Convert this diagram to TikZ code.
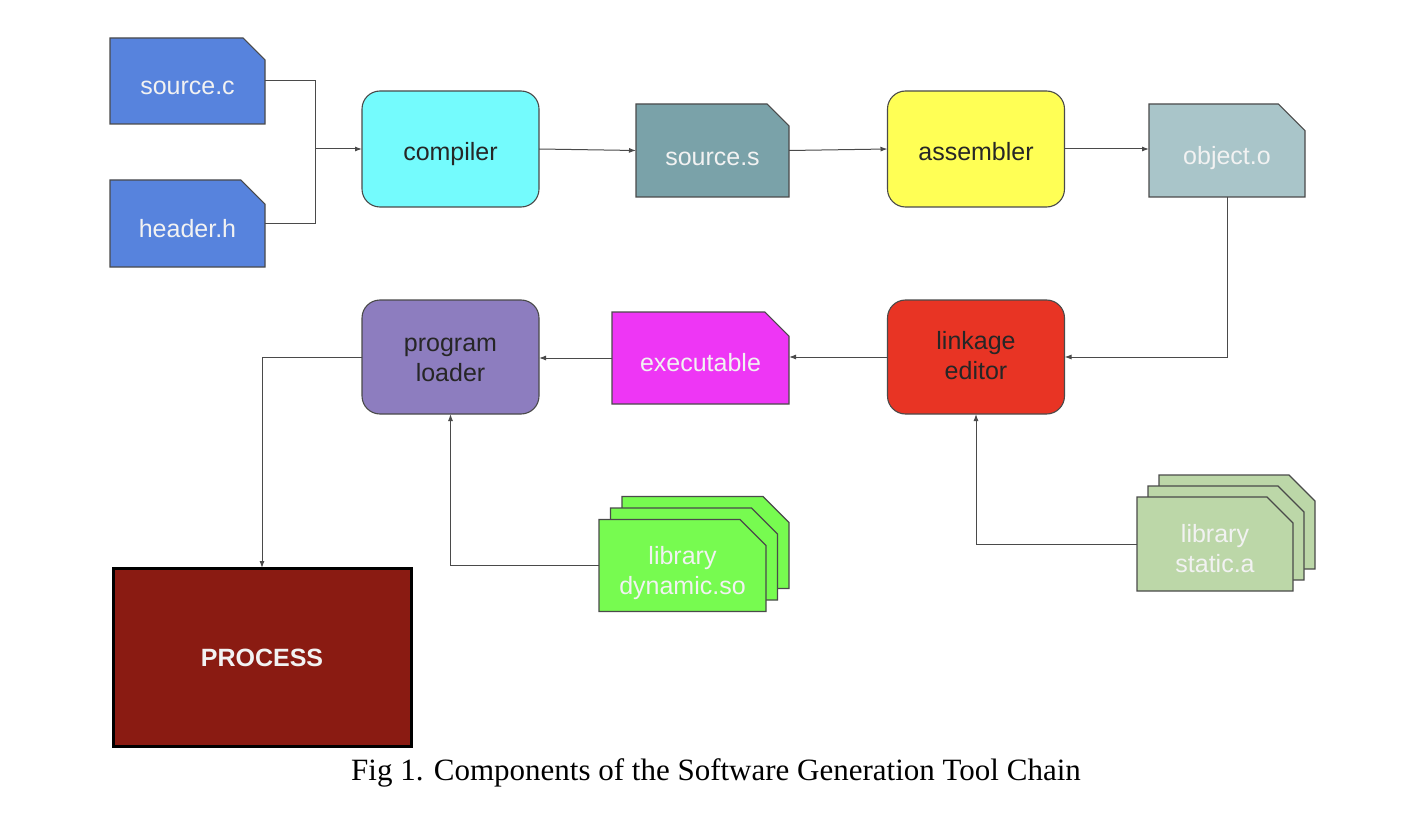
\documentclass[tikz,border=0pt]{standalone}
\usepackage{fontspec}
\setmainfont{Liberation Sans}
\newfontfamily\capfont{Liberation Serif}
\usetikzlibrary{shapes.misc,arrows.meta}
\definecolor{docblue}{HTML}{5783DD}
\definecolor{cyanbox}{HTML}{74FBFD}
\definecolor{tealdoc}{HTML}{7AA2A9}
\definecolor{yellowbox}{HTML}{FFFF55}
\definecolor{objdoc}{HTML}{A9C5C9}
\definecolor{redbox}{HTML}{E83424}
\definecolor{magdoc}{HTML}{EE36F5}
\definecolor{purplebox}{HTML}{8D7DBF}
\definecolor{greendoc}{HTML}{77FB50}
\definecolor{sagedoc}{HTML}{BCD7A8}
\definecolor{procred}{HTML}{8A1B12}
\definecolor{edge}{HTML}{4A4A4A}
\definecolor{lighttext}{HTML}{F2F2F2}
\newcommand\dn[2]{\raisebox{-#1}[\height][\depth]{#2}}
\newcommand\twol[2]{\begin{tabular}{@{}c@{}}#1\\#2\end{tabular}}
\tikzset{
  doc/.style={chamfered rectangle, chamfered rectangle corners=north east,
    chamfered rectangle xsep=15pt, chamfered rectangle ysep=15pt,
    draw=edge, line width=1.1pt, inner sep=0pt, outer sep=0pt,
    text=lighttext, font=\fontsize{25}{30}\selectfont},
  tool/.style={rectangle, rounded corners=18pt, draw=edge, line width=1.1pt,
    minimum width=177pt, minimum height=116pt, inner sep=0pt, outer sep=0pt,
    text=black!85, font=\fontsize{25}{30}\selectfont},
  stackdoc/.style={doc, chamfered rectangle xsep=13pt, chamfered rectangle ysep=13pt},
  arr/.style={draw=edge, line width=1pt, -{Latex[length=7pt,width=5pt]}},
  ln/.style={draw=edge, line width=1pt}
}
\begin{document}
\begin{tikzpicture}[x=1pt,y=-1pt]
\useasboundingbox[fill=white] (0,0) rectangle (1420,818);
% top row
\node[doc, fill=docblue, minimum width=155pt, minimum height=86pt] (sc) at (187.5,81) {\dn{7pt}{source.c}};
\node[doc, fill=docblue, minimum width=155pt, minimum height=87pt] (hh) at (187.5,223.5) {\dn{5pt}{header.h}};
\node[tool, fill=cyanbox] (comp) at (450.5,149) {\dn{5pt}{compiler}};
\node[doc, fill=tealdoc, minimum width=153pt, minimum height=93pt] (ss) at (712.5,150.5) {\dn{8pt}{source.s}};
\node[tool, fill=yellowbox] (asm) at (976,149) {\dn{3pt}{assembler}};
\node[doc, fill=objdoc, minimum width=156pt, minimum height=93pt] (obj) at (1227,150.5) {\dn{8pt}{object.o}};
% middle row
\node[tool, fill=redbox, minimum height=114pt] (link) at (976,357) {\dn{1pt}{\twol{linkage}{editor}}};
\node[doc, fill=magdoc, minimum width=177pt, minimum height=92pt] (exe) at (700.5,358) {\dn{5pt}{executable}};
\node[tool, fill=purplebox, minimum height=114pt] (load) at (450.5,357) {\dn{3pt}{\twol{program}{loader}}};
% libraries
\node[stackdoc, fill=greendoc, minimum width=167pt, minimum height=92pt] (dyn3) at (705.5,542.5) {\phantom{\twol{library}{dynamic.so}}};
\node[stackdoc, fill=greendoc, minimum width=167pt, minimum height=92pt] (dyn2) at (694,554) {\phantom{\twol{library}{dynamic.so}}};
\node[stackdoc, fill=greendoc, minimum width=167pt, minimum height=92pt] (dyn) at (682.5,565.5) {\dn{8pt}{\twol{library}{dynamic.so}}};
\node[stackdoc, fill=sagedoc, minimum width=156pt, minimum height=94pt] (sta3) at (1237,522) {\phantom{\twol{library}{static.a}}};
\node[stackdoc, fill=sagedoc, minimum width=156pt, minimum height=94pt] (sta2) at (1226,533) {\phantom{\twol{library}{static.a}}};
\node[stackdoc, fill=sagedoc, minimum width=156pt, minimum height=94pt] (sta) at (1215,544) {\dn{7pt}{\twol{library}{static.a}}};
% process
\node[rectangle, draw=black, line width=3pt, fill=procred, minimum width=298pt, minimum height=178pt,
  inner sep=0pt, outer sep=0pt, text=lighttext, font=\fontsize{25}{30}\selectfont\bfseries] (proc) at (262,657) {\dn{1pt}{PROCESS}};
% connectors
\coordinate (j) at (315,149);
\draw[ln] (sc.east) -| (j);
\draw[ln] (hh.east) -| (j);
\draw[arr] (j) -- (comp.west);
\draw[arr] (comp.east) -- (ss.west);
\draw[arr] (ss.east) -- (asm.west);
\draw[arr] (asm.east) -- (obj.west |- asm.east);
\draw[arr] (obj.south) |- (link.east);
\draw[arr] (link.west) -- (exe.east |- link.west);
\draw[arr] (exe.west) -- (load.east |- exe.west);
\draw[arr] (load.west) -| (proc.north);
\draw[arr] (dyn.west) -| (load.south);
\draw[arr] (sta.west) -| (link.south);
% caption
\node[font=\capfont\fontsize{31}{36}\selectfont, text=black] (cap) at (716,773) {Fig 1. Components of the Software Generation Tool Chain};
\end{tikzpicture}
\end{document}
